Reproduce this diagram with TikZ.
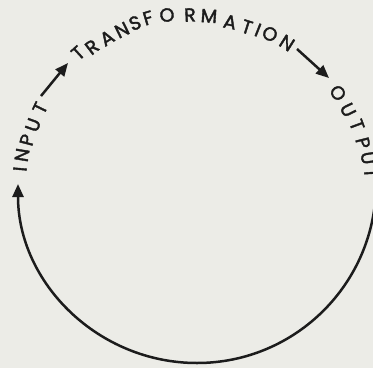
\documentclass[tikz,border=0pt]{standalone}
\usepackage{fontspec}
\setmainfont[FakeBold=2]{Poppins}
\usetikzlibrary{arrows.meta}
\definecolor{paper}{RGB}{236,236,231}
\definecolor{ink}{RGB}{28,28,28}
\begin{document}
\begin{tikzpicture}[x=1pt,y=-1pt,
  ltr/.style={font=\fontsize{19}{19}\selectfont, inner sep=0pt, text=ink},
  conn/.style={draw=ink, line width=2.5pt, -{Triangle[length=13pt,width=11pt]}}]
\useasboundingbox (0,0) rectangle (373,368);
\clip (0,0) rectangle (373,368);
\fill[paper] (0,0) rectangle (373,368);
% INPUT
\foreach \n/\t/\x/\y/\r in {inI/I/20/169/85.2, inN/N/22/155/80.6, inP/P/27/140/75.5,
  inU/U/33/125/70.2, inT/T/40/108/64.2}
  \node[ltr, rotate=\r] (\n) at (\x,\y) {\t};
% TRANSFORMATION
\foreach \n/\t/\x/\y/\r in {trA1/T/78/53/42.3, trA2/R/92/47/37.5, trA3/A/107/38/31.7,
  trA4/N/122/30/26.0, trA5/S/135/23/21.0, trA6/F/148/18/16.4, trA7/O/167/15/10.1,
  trA8/R/190/15/2.4, trA9/M/209/16/-4.1, trB1/A/230/22/-11.5, trB2/T/247/27/-17.7,
  trB3/I/258/30/-21.6, trB4/O/270/34/-25.9, trB5/N/287/43/-32.5}
  \node[ltr, rotate=\r] (\n) at (\x,\y) {\t};
% OUTPUT
\foreach \n/\t/\x/\y/\r in {outO/O/338/93/-57.2, outU/U/348/110/-63.9, outT/T/357/125/-69.8,
  outP/P/363/143/-76.1, outUb/U/368/158/-81.4, outTb/T/371/173/-86.4}
  \node[ltr, rotate=\r] (\n) at (\x,\y) {\t};
% connectors
\coordinate (a1s) at (41,96);
\coordinate (a1e) at (68,63);
\coordinate (a2s) at (297,49);
\coordinate (a2e) at (329,78);
\coordinate (loopS) at (376,184);
\draw[conn] (a1s) -- (a1e);
\draw[conn] (a2s) -- (a2e);
\draw[conn] (loopS) arc[start angle=0, end angle=180, radius=179];
\end{tikzpicture}
\end{document}
